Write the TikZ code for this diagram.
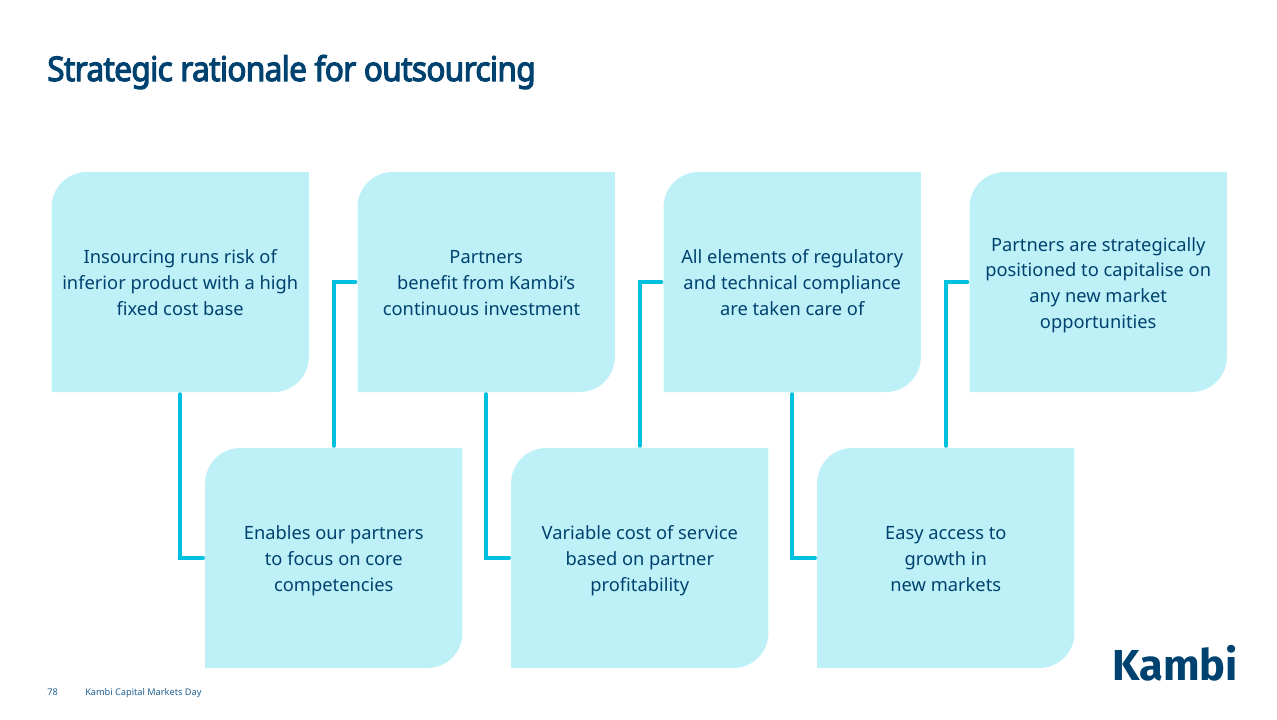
\documentclass[tikz,border=0pt]{standalone}
\usepackage{fontspec}
\setmainfont{Noto Sans}
\newfontfamily\logofont{Fira Sans}
\newfontfamily\titlefont[FakeStretch=0.93,LetterSpace=-2,FakeBold=3.2]{Noto Sans}
\definecolor{cardfill}{HTML}{BEF0F7}
\definecolor{linkcol}{HTML}{00C1DE}
\definecolor{inkcol}{HTML}{00426F}
\definecolor{footcol}{HTML}{1F5F8F}
\newcommand{\topstrut}{\rule{0pt}{17.3pt}}
\tikzset{
  cardtext/.style={minimum width=192.9pt,minimum height=165pt,inner sep=0pt,align=center,text=inkcol,font=\fontsize{13.72pt}{19.3pt}\selectfont},
  link/.style={draw=linkcol,line width=3.3pt,line cap=round,line join=miter,shorten >=1.6pt,shorten <=1.6pt},
}
\begin{document}
\begin{tikzpicture}[x=0.75pt,y=-0.75pt]
\useasboundingbox (0,0) rectangle (1277,719);
\foreach \cx/\cy in {180.2/282,486.2/282,792.2/282,1098.2/282,333.8/558,639.8/558,945.8/558}{
  \fill[cardfill] (\cx-128.6,\cy+110) -- (\cx-128.6,\cy-75) arc[start angle=180,end angle=90,radius=26.25pt] -- (\cx+128.6,\cy-110) -- (\cx+128.6,\cy+75) arc[start angle=0,end angle=-90,radius=26.25pt] -- cycle;
}
\node[cardtext] (a) at (180.2,282) {\topstrut Insourcing runs risk of\\inferior product with a high\\fixed cost base\strut};
\node[cardtext] (c) at (486.2,282) {\topstrut Partners\\benefit from Kambi’s\\continuous investment\hspace*{7pt}\strut};
\node[cardtext] (e) at (792.2,282) {\topstrut All elements of regulatory\\and technical compliance\\are taken care of\strut};
\node[cardtext] (g) at (1098.2,282) {\topstrut Partners are strategically\\positioned to capitalise on\\any new market\\opportunities\strut};
\node[cardtext] (b) at (333.8,558) {\topstrut Enables our partners\\to focus on core\\competencies\strut};
\node[cardtext] (d) at (639.8,558) {\topstrut Variable cost of service\\based on partner\\profitability\strut};
\node[cardtext] (f) at (945.8,558) {\topstrut Easy access to\\growth in\\new markets\strut};
\draw[link] (a.south) |- (b.west);
\draw[link] (b.north) |- (c.west);
\draw[link] (c.south) |- (d.west);
\draw[link] (d.north) |- (e.west);
\draw[link] (e.south) |- (f.west);
\draw[link] (f.north) |- (g.west);
\node[anchor=base west,inner sep=0pt,text=inkcol,font=\titlefont\fontsize{25.5pt}{30pt}\selectfont] (title) at (47,81) {Strategic rationale for outsourcing};
\node[anchor=base west,inner sep=0pt,text=footcol,font=\fontsize{6.9pt}{8pt}\selectfont] (page) at (47,695) {78};
\node[anchor=base west,inner sep=0pt,text=footcol,font=\fontsize{6.9pt}{8pt}\selectfont] (foot) at (85,695) {Kambi Capital Markets Day};
\node[anchor=base east,inner sep=0pt,text=inkcol,font=\logofont\bfseries\fontsize{32.5pt}{36pt}\selectfont] (logo) at (1238,680) {Kambi};
\end{tikzpicture}
\end{document}
